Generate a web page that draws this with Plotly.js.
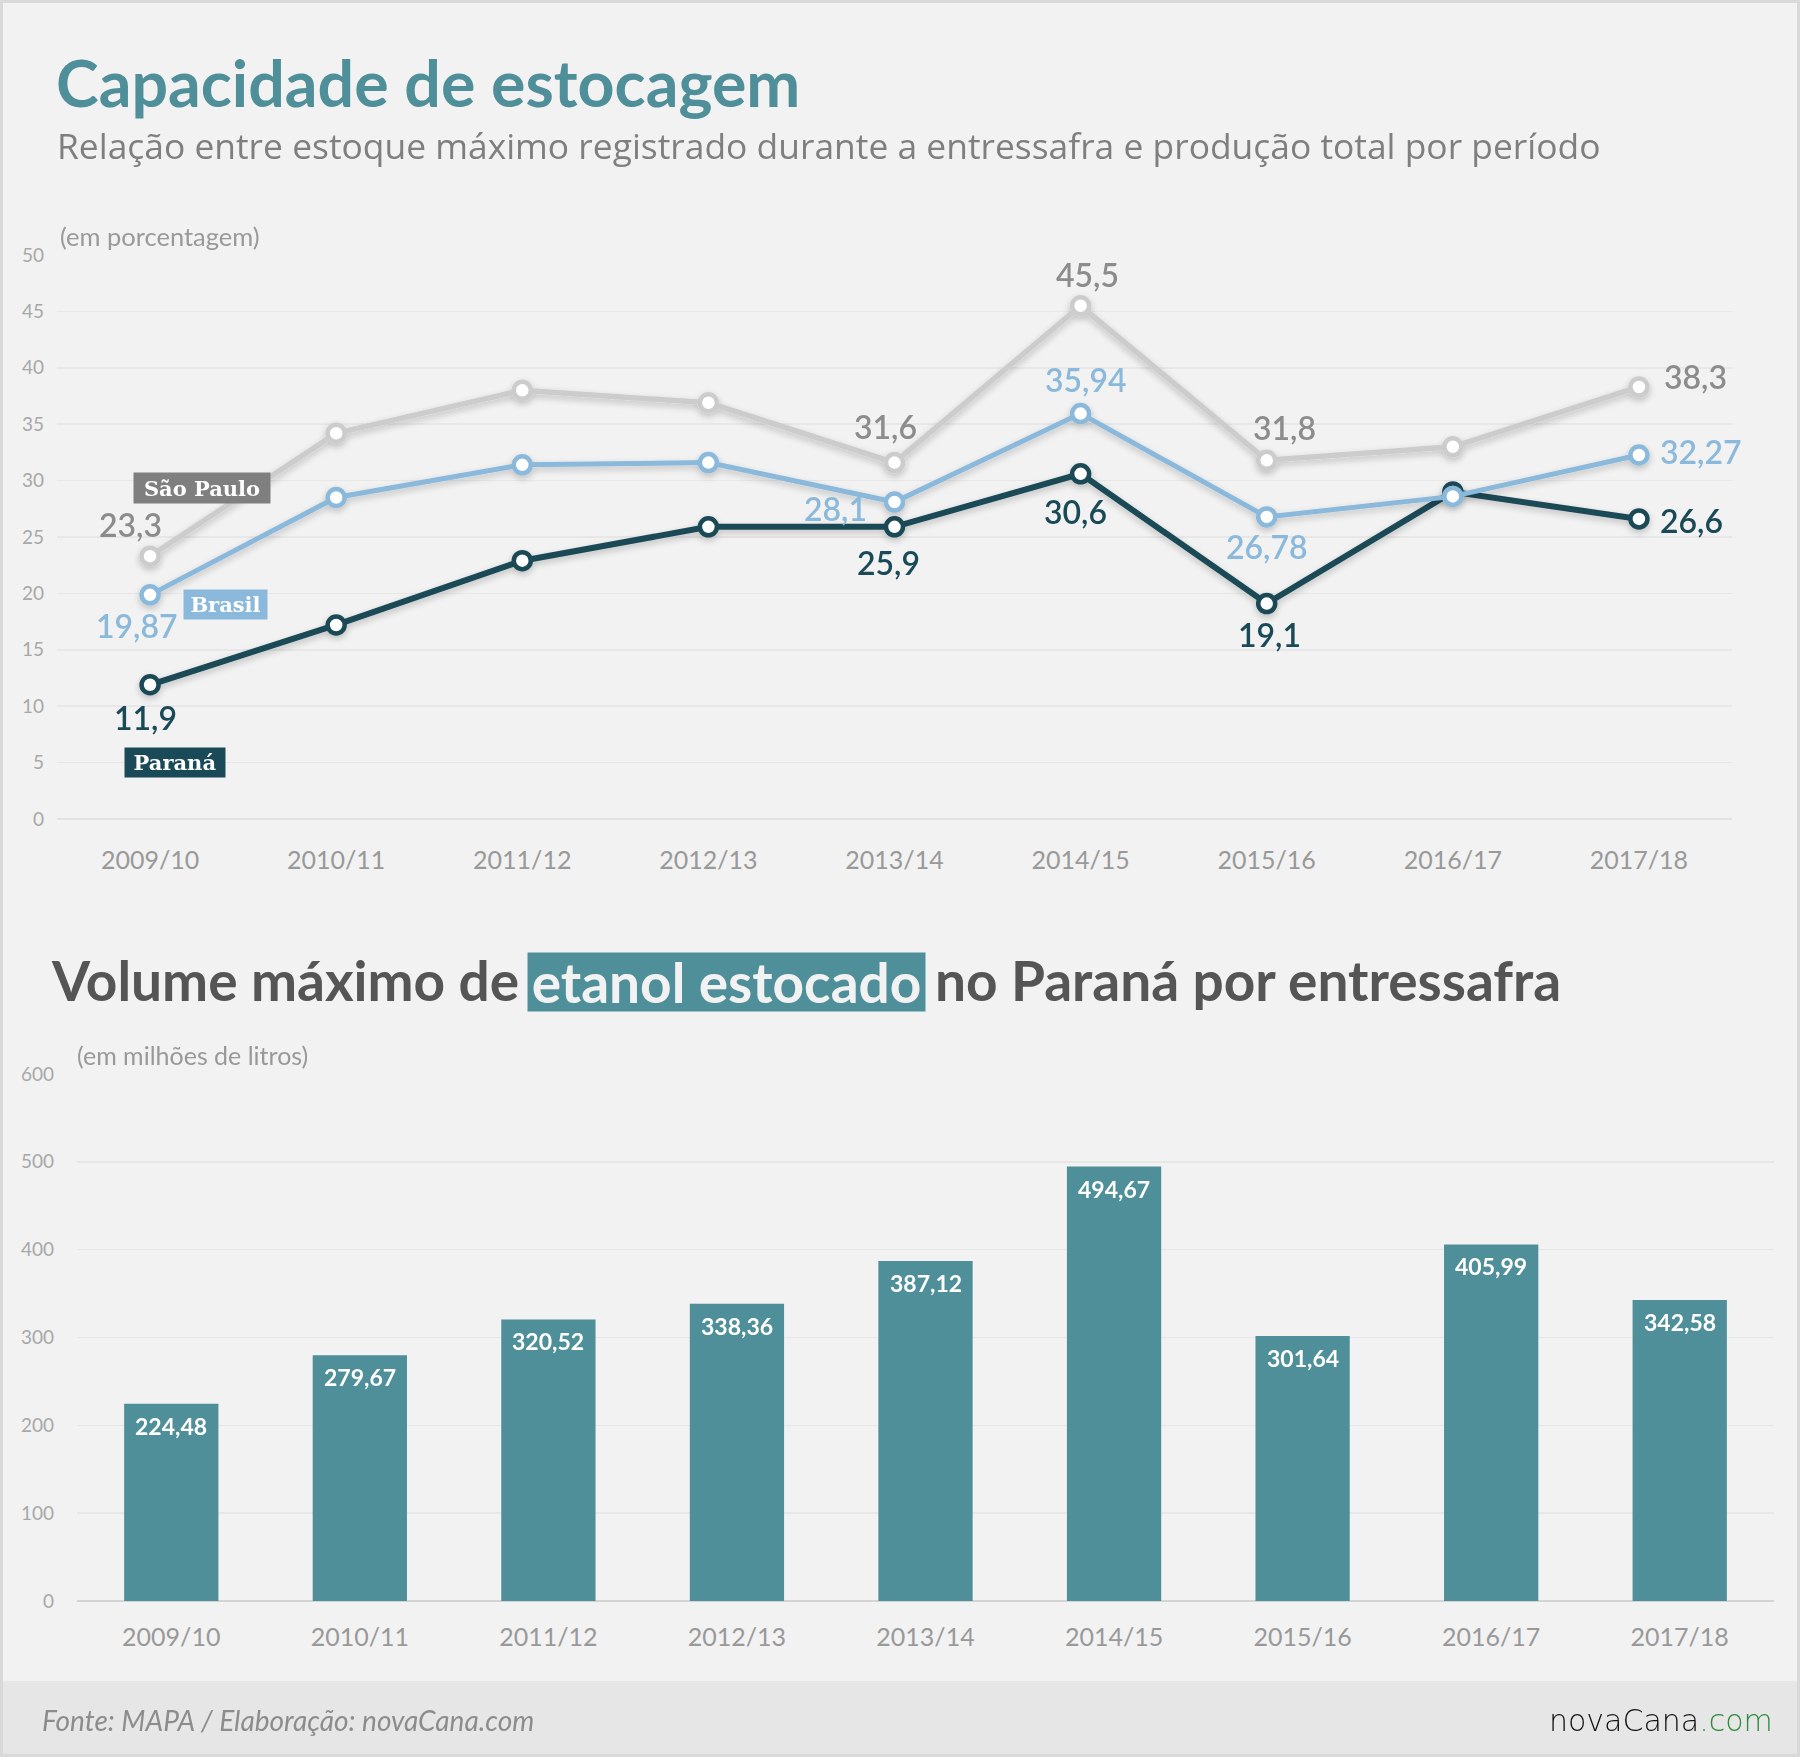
<!DOCTYPE html>
<html>
<head>
<meta charset="utf-8">
<script src="https://cdn.plot.ly/plotly-3.0.1.min.js"></script>
<style>
  html, body { margin: 0; padding: 0; background: #f2f2f2; }
  #chart { width: 1800px; height: 1757px; }
  /* soft shadow under the line series */
  #chart .scatterlayer .trace { filter: url(#lineShadow); }
</style>
</head>
<body>
<svg width="0" height="0" style="position:absolute">
  <defs>
    <filter id="lineShadow" x="-10%" y="-10%" width="120%" height="130%">
      <feGaussianBlur in="SourceAlpha" stdDeviation="3.5"/>
      <feOffset dx="0" dy="3" result="off"/>
      <feComponentTransfer><feFuncA type="linear" slope="0.22"/></feComponentTransfer>
      <feMerge><feMergeNode/><feMergeNode in="SourceGraphic"/></feMerge>
    </filter>
  </defs>
</svg>
<div id="chart"></div>
<script>
// Safras (períodos de entressafra)
const periods = ['2009/10', '2010/11', '2011/12', '2012/13', '2013/14', '2014/15', '2015/16', '2016/17', '2017/18'];

// Estoque máximo / produção total (%)
const saoPaulo = [23.3, 34.2, 38.0, 36.9, 31.6, 45.5, 31.8, 33.0, 38.3];
const brasil   = [19.87, 28.5, 31.4, 31.6, 28.1, 35.94, 26.78, 28.6, 32.27];
const parana   = [11.9, 17.2, 22.9, 25.9, 25.9, 30.6, 19.1, 29.0, 26.6];

// Volume máximo de etanol estocado no Paraná (milhões de litros)
const volumeParana = [224.48, 279.67, 320.52, 338.36, 387.12, 494.67, 301.64, 405.99, 342.58];

// Pontos com rótulo de valor
const labeledPoints = [0, 4, 5, 6, 8];

const W = 1800, H = 1757;
const px = x => x / W;
const py = y => 1 - y / H;
const fmt = v => String(v).replace('.', ',');

const C = {
  teal: '#4f8f99',
  sp: '#cccccc', spText: '#8c8c8c', spBox: '#7f7f7f',
  br: '#8ab9db',
  pr: '#1a4a57',
  grid: '#e7e7e7',
  tick: '#a8a8a8'
};

const SANS = 'Lato, "Open Sans", sans-serif';
const SLAB = '"DejaVu Serif", serif';

function lineTrace(name, values, color, width) {
  return {
    type: 'scatter', mode: 'lines+markers', name,
    x: periods, y: values, xaxis: 'x', yaxis: 'y',
    line: { color, width },
    marker: { size: 17, color: '#ffffff', line: { color, width: 4.5 } },
    cliponaxis: false, hoverinfo: 'skip'
  };
}

const traces = [
  lineTrace('São Paulo', saoPaulo, C.sp, 5.5),
  lineTrace('Paraná', parana, C.pr, 6),
  lineTrace('Brasil', brasil, C.br, 5),
  {
    type: 'bar', x: periods, y: volumeParana, xaxis: 'x2', yaxis: 'y2',
    marker: { color: C.teal }, hoverinfo: 'skip'
  }
];

// Deslocamento (px) de cada rótulo de valor em relação ao ponto
const offsets = {
  sp: [[-20, -32], [-9, -36], [7, -31], [18, -33], [57, -10]],
  br: [[-13, 31], [-59, 6], [5, -34], [0, 30], [62, -3]],
  pr: [[-5, 33], [-6, 36], [-5, 38], [3, 31], [53, 2]]
};

const annotations = [];

function valueLabels(values, key, color) {
  labeledPoints.forEach((idx, k) => {
    const [dx, dy] = offsets[key][k];
    annotations.push({
      xref: 'x', yref: 'y', x: periods[idx], y: values[idx],
      text: fmt(values[idx]), showarrow: false,
      xanchor: 'center', yanchor: 'middle',
      xshift: dx, yshift: -dy,
      font: { family: SANS, size: 32, color, weight: 600 }
    });
  });
}
valueLabels(saoPaulo, 'sp', C.spText);
valueLabels(brasil, 'br', C.br);
valueLabels(parana, 'pr', C.pr);

// Caixas com o nome de cada série
function seriesTag(text, cx, cy, w, h, bg) {
  annotations.push({
    xref: 'paper', yref: 'paper', x: px(cx), y: py(cy),
    xanchor: 'center', yanchor: 'middle', showarrow: false,
    text, width: w, height: h, bgcolor: bg, borderpad: 0,
    font: { family: SLAB, size: 21, color: '#ffffff', weight: 700 }
  });
}
seriesTag('São Paulo', 202, 488, 136, 30, C.spBox);
seriesTag('Brasil', 225, 604, 83, 29, C.br);
seriesTag('Paraná', 175, 762, 100, 29, C.pr);

// Rótulos das barras
volumeParana.forEach((v, i) => {
  annotations.push({
    xref: 'x2', yref: 'y2', x: periods[i], y: v,
    text: v.toFixed(2).replace('.', ','), showarrow: false,
    xanchor: 'center', yanchor: 'top', yshift: -6,
    font: { family: SANS, size: 23, color: '#ffffff', weight: 700 }
  });
});

// Títulos e textos
function text(str, x, y, anchor, font) {
  annotations.push({
    xref: 'paper', yref: 'paper', x: px(x), y: py(y),
    xanchor: anchor, yanchor: 'middle', showarrow: false, text: str, font
  });
}
text('Capacidade de estocagem', 54, 82, 'left', { family: SANS, size: 64.5, color: C.teal, weight: 700 });
text('Relação entre estoque máximo registrado durante a entressafra e produção total por período', 55, 145, 'left',
     { family: '"Open Sans", Lato, sans-serif', size: 35.4, color: '#7f7f7f', weight: 400 });
text('(em porcentagem)', 58, 236, 'left', { family: SANS, size: 25.5, color: '#999999' });
text('(em milhões de litros)', 75, 1055, 'left', { family: SANS, size: 25, color: '#999999' });

const subFont = { family: SANS, size: 55, color: '#555555', weight: 700 };
text('Volume máximo de', 521, 980, 'right', subFont);
annotations.push({
  xref: 'paper', yref: 'paper', x: px(726.5), y: py(982),
  xanchor: 'center', yanchor: 'middle', showarrow: false,
  text: 'etanol estocado', width: 397, height: 58, bgcolor: C.teal, borderpad: 0,
  font: { family: SANS, size: 55, color: '#f2f2f2', weight: 700 }
});
text('no Paraná por entressafra', 933, 980, 'left', subFont);

text('<i>Fonte: MAPA / Elaboração: novaCana.com</i>', 40, 1720, 'left',
     { family: SANS, size: 28, color: '#8c8c8c' });
text('novaCana<span style="color:#2e8b3e">.com</span>', 1775, 1720, 'right',
     { family: '"DejaVu Sans", sans-serif', size: 30, color: '#111111', weight: 200 });

const shapes = [
  // faixa do rodapé
  { type: 'rect', xref: 'paper', yref: 'paper', x0: 0, x1: 1, y0: py(1757), y1: py(1681),
    fillcolor: '#e6e6e6', line: { width: 0 }, layer: 'below' },
  // moldura
  { type: 'rect', xref: 'paper', yref: 'paper', x0: px(1.5), x1: px(1798.5), y0: py(1755.5), y1: py(1.5),
    fillcolor: 'rgba(0,0,0,0)', line: { color: '#d9d9d9', width: 3 }, layer: 'above' }
];

const catAxis = (domain, anchor, standoff) => ({
  domain, anchor, type: 'category', range: [-0.5, 8.5],
  showgrid: false, zeroline: false, showline: false, ticks: '',
  ticklabelstandoff: standoff,
  tickfont: { family: SANS, size: 25, color: '#999999' }, fixedrange: true
});

const layout = {
  width: W, height: H,
  margin: { l: 0, r: 0, t: 0, b: 0 },
  paper_bgcolor: '#f2f2f2', plot_bgcolor: 'rgba(0,0,0,0)',
  showlegend: false, bargap: 0.5,
  xaxis: catAxis([px(57), px(1732)], 'y', 24),
  yaxis: {
    domain: [py(819), py(255)], anchor: 'x', range: [0, 50], dtick: 5,
    gridcolor: C.grid, gridwidth: 1.5, zeroline: true, zerolinecolor: '#e2e2e2', zerolinewidth: 2,
    showline: false, ticks: '', ticklabelstandoff: 12,
    tickfont: { family: SANS, size: 19, color: C.tick }, fixedrange: true
  },
  xaxis2: catAxis([px(77), px(1774)], 'y2', 19),
  yaxis2: {
    domain: [py(1601), py(1074)], anchor: 'x2', range: [0, 600], dtick: 100,
    gridcolor: C.grid, gridwidth: 1.5, zeroline: true, zerolinecolor: '#d4d4d4', zerolinewidth: 2,
    showline: false, ticks: '', ticklabelstandoff: 22,
    tickfont: { family: SANS, size: 19, color: C.tick }, fixedrange: true
  },
  annotations, shapes
};

Plotly.newPlot('chart', traces, layout, { staticPlot: true, displayModeBar: false });
</script>
</body>
</html>
